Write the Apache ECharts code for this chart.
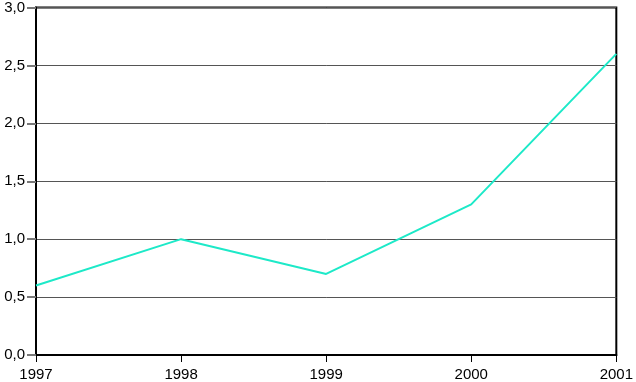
<!DOCTYPE html>
<html><head><meta charset="utf-8">
<script src="https://cdn.jsdelivr.net/npm/echarts@6/dist/echarts.min.js"></script>
<style>html,body{margin:0;padding:0;background:#fff}#c{width:636px;height:382px}</style>
</head><body><div id="c"></div>
<script>
const years = ['1997','1998','1999','2000','2001'];
const values = [0.6, 1.0, 0.7, 1.3, 2.6];
const yMin = 0, yMax = 3.0, yStep = 0.5;

const chart = echarts.init(document.getElementById('c'));
chart.setOption({
  animation: false,
  grid: {left: 36, top: 6, right: 14, bottom: 26, show: true, borderColor: '#000', borderWidth: 2, backgroundColor: 'transparent'},
  xAxis: {
    type: 'category', data: years, boundaryGap: false,
    axisLine: {lineStyle: {color: '#000', width: 2}},
    axisTick: {show: true, length: 7, lineStyle: {color: '#000', width: 1}},
    axisLabel: {color: '#000', fontFamily: 'Liberation Sans', fontSize: 15, margin: 12, showMinLabel: true, showMaxLabel: true},
    splitLine: {show: false}
  },
  yAxis: {
    type: 'value', min: yMin, max: yMax, interval: yStep,
    axisLine: {show: true, lineStyle: {color: '#000', width: 2}},
    axisTick: {show: true, length: 9, lineStyle: {color: '#777', width: 2}},
    axisLabel: {color: '#000', fontFamily: 'Liberation Sans', fontSize: 15, margin: 11,
      formatter: v => v.toFixed(1).replace('.', ',')},
    splitLine: {show: true, lineStyle: {color: '#555', width: 1}}
  },
  series: [{
    type: 'line', data: values, symbol: 'none',
    lineStyle: {color: '#1de9c8', width: 2}
  }]
});
</script></body></html>
